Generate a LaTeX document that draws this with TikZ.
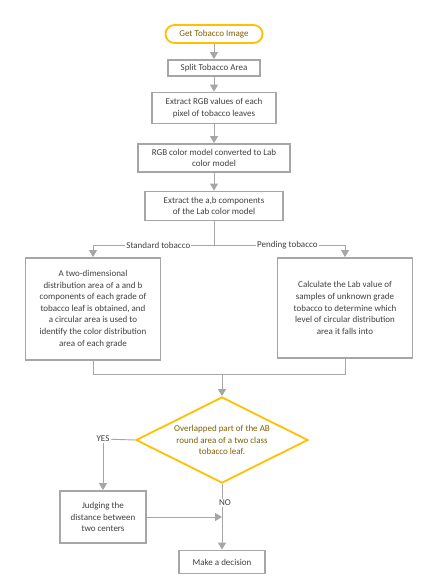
\documentclass[tikz,border=0pt]{standalone}
\usepackage{fontspec}
\setmainfont{Carlito}
\usetikzlibrary{shapes.geometric,arrows.meta}
\definecolor{lgray}{HTML}{A6A6A6}
\definecolor{tgray}{HTML}{404040}
\definecolor{gold}{HTML}{FFC000}
\definecolor{dgold}{HTML}{7F6000}
\tikzset{
    BOX/.style ={rectangle, draw=lgray, line width=1.8pt, fill=white, text=tgray, align=center, inner sep=1pt},
    TRM/.style ={rectangle, rounded corners=9pt, draw=gold, line width=1.8pt, fill=white, text=dgold, align=center},
    DEC/.style ={diamond, draw=gold, line width=1.8pt, fill=white, inner sep=0pt},
    LNK/.style ={draw=lgray, line width=0.9pt},
    ARW/.style ={LNK, -{Triangle[width=8pt,length=7pt]}},
    LBL/.style ={fill=white, text=tgray, inner sep=1pt}}

\begin{document}
\begin{tikzpicture}[x=1pt,y=-1pt,font=\fontsize{9}{11.6}\selectfont]
        \useasboundingbox (0,0) rectangle (439,579);
        \node[TRM, minimum width=97pt, minimum height=18pt] (start) at(214,34){Get Tobacco Image};
        \node[BOX, minimum width=92pt, minimum height=16pt] (split) at(214,68){Split Tobacco Area};
        \node[BOX, minimum width=124pt, minimum height=31pt] (rgb) at(214,108){Extract RGB values of each\\pixel of tobacco leaves};
        \node[BOX, minimum width=152pt, minimum height=28pt] (lab) at(214,158){RGB color model converted to Lab\\color model};
        \node[BOX, minimum width=138pt, minimum height=29pt] (ab) at(214,206){Extract the a,b components\\of the Lab color model};
        \node[BOX, minimum width=135pt, minimum height=102pt] (std) at(93,309){A two-dimensional\\distribution area of a and b\\components of each grade of\\tobacco leaf is obtained, and\\a circular area is used to\\identify the color distribution\\area of each grade};
        \node[BOX, minimum width=135pt, minimum height=100pt] (pend) at(345,308){Calculate the Lab value of\\samples of unknown grade\\tobacco to determine which\\level of circular distribution\\area it falls into};
        \node[DEC, minimum width=172pt, minimum height=86pt,
              label={[text=dgold, align=center]center:Overlapped part of the AB\\round area of a two class\\tobacco leaf.}] (overlap) at(222,440){};
        \node[BOX, minimum width=86pt, minimum height=52pt] (judge) at(103,517){Judging the\\distance between\\two centers};
        \node[BOX, minimum width=86pt, minimum height=23pt] (decide) at(222,562){Make a decision};
        \coordinate (fork) at(214,245);
        \coordinate (jl) at(93,374);
        \coordinate (join) at(222,374);
        \coordinate (meet) at(222,517);
        \draw[ARW] (start) --(split);
        \draw[ARW] (split) --(rgb);
        \draw[ARW] (rgb) --(lab);
        \draw[ARW] (lab) --(ab);
        \draw[LNK] (ab) --(fork);
        \draw[ARW] (fork) -| node[LBL, pos=0.23]{Standard tobacco} (std);
        \draw[ARW] (fork) -| node[LBL, pos=0.28]{Pending tobacco} (pend);
        \draw[LNK] (std) --(jl) -| (pend);
        \draw[ARW] (join) --(overlap);
        \node[LBL] (yes) at(103,439){YES};
        \draw[LNK] (overlap.west) --(yes);
        \draw[ARW] (yes) --(judge);
        \draw[ARW] (overlap.south) --(decide);
        \draw[ARW] (judge) --(meet);
        \node[LBL] (no) at(225,503){NO};
    \end{tikzpicture}
\end{document}
